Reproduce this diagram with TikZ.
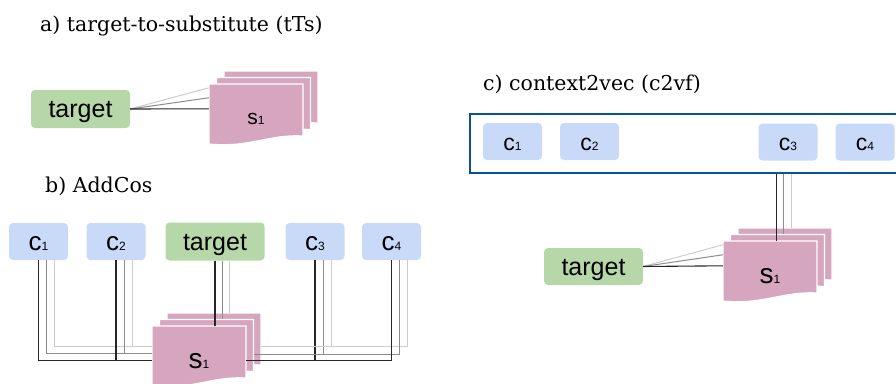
\documentclass[tikz,border=0pt]{standalone}
\usepackage{fontspec}
\setmainfont{DejaVu Serif}
\setsansfont{Liberation Sans}
\usepackage{xcolor}
\usetikzlibrary{calc, positioning}

\definecolor{ctxblue}{HTML}{C9DAF8}
\definecolor{tgtgreen}{HTML}{B6D7A8}
\definecolor{sheetpink}{HTML}{D5A6BD}
\definecolor{framecol}{HTML}{0B5394}

\tikzset{
  ctxbox/.style={rounded corners=4pt, fill=ctxblue, minimum width=59pt, minimum height=37pt, inner sep=0pt, text height=17pt, text depth=0pt, font=\sffamily\fontsize{26}{26}\selectfont},
  tgtbox/.style={rounded corners=4pt, fill=tgtgreen, minimum width=99pt, minimum height=38pt, inner sep=0pt, text height=17pt, text depth=0pt, font=\sffamily\fontsize{25}{25}\selectfont},
  sheet/.style={fill=sheetpink, draw=white, line width=1.2pt},
  sheetbox/.style={minimum width=94pt, minimum height=60pt, inner sep=0pt},
  sheetlabel/.style={yshift=-5pt, inner sep=0pt, font=\sffamily},
  title/.style={anchor=west, inner sep=0pt, font=\fontsize{20.5}{24}\selectfont},
  frame/.style={draw=framecol, line width=2pt, minimum width=450pt, minimum height=59pt, anchor=north west},
  link0/.style={draw=black!85, line width=1.1pt},
  link1/.style={draw=black!45, line width=1pt},
  link2/.style={draw=black!20, line width=1pt}
}

\newcommand{\idx}[1]{{\fontsize{12}{12}\selectfont #1}}
% one sheet, top left corner at (#2,#3)
\newcommand{\sheetat}[4]{%
  \fill[sheet] (#2,#3) -- (#2+94,#3) -- (#2+94,#3+52)
    .. controls (#2+60,#3+50) and (#2+40,#3+64) .. (#2,#3+60) -- cycle;
  \node[sheetbox, label={[sheetlabel]center:#4}] (#1) at (#2+47,#3+30) {};}
% stack of three sheets
\newcommand{\sheetstack}[4]{%
  \sheetat{#13}{#2+15}{#3-13}{}
  \sheetat{#12}{#2+7.5}{#3-6.5}{}
  \sheetat{#1}{#2}{#3}{#4}}

\begin{document}
\begin{tikzpicture}[x=1pt, y=-1pt]
\useasboundingbox (0,0) rectangle (896,383);
\clip (0,0) rectangle (896,383);

% a) target-to-substitute
\node[title] (titleA) at (40,26) {a) target-to-substitute (tTs)};
\node[tgtbox] (tgtA) at (80.5,109) {target};
\sheetstack{sA}{209}{84}{{\fontsize{21}{21}\selectfont s}\idx{1}}
\draw[link2] (tgtA.east) -- ($(sA.north west)+(0,4)$);
\draw[link1] (tgtA.east) -- ($(sA.north west)+(0,14)$);
\draw[link0] (tgtA.east) -- ($(sA.north west)+(0,25)$);

% b) AddCos
\node[title] (titleB) at (45,186) {b) AddCos};
\node[ctxbox] (c1B) at (38.5,241.5) {c\idx{1}};
\node[ctxbox] (c2B) at (116,241.5) {c\idx{2}};
\node[tgtbox] (tgtB) at (215,241.5) {target};
\node[ctxbox] (c3B) at (315,241.5) {c\idx{3}};
\node[ctxbox] (c4B) at (391.5,241.5) {c\idx{4}};
\sheetstack{sB}{152}{326}{{\fontsize{28}{28}\selectfont s}\idx{1}}
\draw[link2] ($(c1B.south)+(16,0)$) |- ($(sB.north west)+(0,21)$);
\draw[link1] ($(c1B.south)+(8,0)$) |- ($(sB.north west)+(0,28)$);
\draw[link0] (c1B.south) |- ($(sB.north west)+(0,35)$);
\draw[link2] ($(c2B.south)+(16,0)$) |- ($(sB.north west)+(0,21)$);
\draw[link1] ($(c2B.south)+(8,0)$) |- ($(sB.north west)+(0,28)$);
\draw[link0] (c2B.south) |- ($(sB.north west)+(0,35)$);
\coordinate (tb1) at ($(tgtB.south)+(7.5,0)$);
\coordinate (tb2) at ($(tgtB.south)+(14.5,0)$);
\draw[link2] (tb2) -- (tb2 |- sB3.north);
\draw[link1] (tb1) -- (tb1 |- sB2.north);
\draw[link0] (tgtB.south) -- (tgtB.south |- sB.north);
\draw[link2] ($(c3B.south)+(16,0)$) |- ($(sB3.north east)+(0,34)$);
\draw[link1] ($(c3B.south)+(8,0)$) |- ($(sB2.north east)+(0,35)$);
\draw[link0] (c3B.south) |- ($(sB.north east)+(0,35)$);
\draw[link2] ($(c4B.south)+(16,0)$) |- ($(sB3.north east)+(0,34)$);
\draw[link1] ($(c4B.south)+(8,0)$) |- ($(sB2.north east)+(0,35)$);
\draw[link0] (c4B.south) |- ($(sB.north east)+(0,35)$);

% c) context2vec
\node[title] (titleC) at (483,84) {c) context2vec (c2vf)};
\node[frame] (ctxC) at (469,113) {};
\node[ctxbox, font=\sffamily\fontsize{23}{23}\selectfont] (c1C) at (512.5,141.5) {c\idx{1}};
\node[ctxbox, font=\sffamily\fontsize{23}{23}\selectfont] (c2C) at (589.5,141.5) {c\idx{2}};
\node[ctxbox, font=\sffamily\fontsize{23}{23}\selectfont] (c3C) at (788,142) {c\idx{3}};
\node[ctxbox, font=\sffamily\fontsize{23}{23}\selectfont] (c4C) at (865,142) {c\idx{4}};
\node[tgtbox, minimum height=37pt] (tgtC) at (593.5,266.5) {target};
\sheetstack{sC}{723}{241}{{\fontsize{28}{28}\selectfont s}\idx{1}}
\coordinate (kc0) at ($(sC.north west)+(54,0)$);
\coordinate (kc1) at ($(sC.north west)+(61,0)$);
\coordinate (kc2) at ($(sC.north west)+(69,0)$);
\draw[link2] (kc2 |- ctxC.south) -- (kc2 |- sC3.north);
\draw[link1] (kc1 |- ctxC.south) -- (kc1 |- sC2.north);
\draw[link0] (kc0 |- ctxC.south) -- (kc0);
\draw[link2] (tgtC.east) -- ($(sC.north west)+(0,4)$);
\draw[link1] (tgtC.east) -- ($(sC.north west)+(0,14)$);
\draw[link0] (tgtC.east) -- ($(sC.north west)+(0,25)$);
\end{tikzpicture}
\end{document}
